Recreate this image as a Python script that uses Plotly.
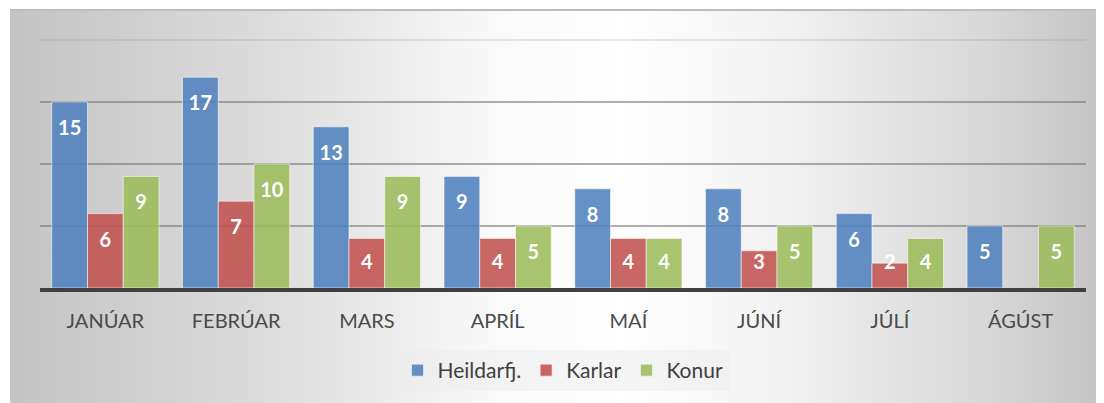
import base64
import plotly.graph_objects as go

months = ['JANÚAR', 'FEBRÚAR', 'MARS', 'APRÍL', 'MAÍ', 'JÚNÍ', 'JÚLÍ', 'ÁGÚST']
heildar = [15, 17, 13, 9, 8, 8, 6, 5]
karlar = [6, 7, 4, 4, 4, 3, 2, None]
konur = [9, 10, 9, 5, 4, 5, 4, 5]

series = [
    ('Heildarfj.', heildar, 'rgba(79,129,189,0.87)'),
    ('Karlar', karlar, 'rgba(192,80,77,0.87)'),
    ('Konur', konur, 'rgba(155,187,89,0.87)'),
]

# page body has an 8px margin, so the figure is shifted by that much
OFF = 8
W, H = 1104 - OFF, 403 - OFF
ML, MR, MT, MB = 40 - OFF, 18, 40 - OFF, 115
PW, PH = W - ML - MR, H - MT - MB
YMAX = 20
px_per_unit = PH / YMAX

# gray-white-gray backdrop like the office chart style
svg = '''<svg xmlns="http://www.w3.org/2000/svg" width="1094" height="394" viewBox="0 0 1094 394" preserveAspectRatio="none">
<defs><linearGradient id="g" x1="0" y1="0" x2="1" y2="0">
<stop offset="0" stop-color="#c4c4c4"/>
<stop offset="0.22" stop-color="#dadada"/>
<stop offset="0.45" stop-color="#fafafa"/>
<stop offset="0.56" stop-color="#ffffff"/>
<stop offset="0.72" stop-color="#f0f0f0"/>
<stop offset="0.9" stop-color="#d6d6d6"/>
<stop offset="1" stop-color="#c4c4c4"/>
</linearGradient></defs>
<rect x="0" y="0" width="1094" height="394" fill="url(#g)"/>
<rect x="0" y="0" width="1094" height="2" fill="#bcbcbc"/>
</svg>'''
bg_src = 'data:image/svg+xml;base64,' + base64.b64encode(svg.encode()).decode()

fig = go.Figure()

for i, (name, vals, color) in enumerate(series):
    fig.add_trace(go.Bar(
        x=months, y=vals, name=name,
        offsetgroup=str(i),
        marker=dict(color=color, line=dict(color='rgba(255,255,255,0.55)', width=1)),
        hoverinfo='x+y+name',
    ))

# labels sit ~28px under the bar top, but never lower than 24px above the base
for i, (name, vals, color) in enumerate(series):
    label_y = [None if v is None else max(v - 28 / px_per_unit, 24 / px_per_unit) for v in vals]
    fig.add_trace(go.Scatter(
        x=months, y=label_y, mode='text',
        text=['' if v is None else str(v) for v in vals],
        textposition='middle center',
        textfont=dict(family='Lato', size=20, color='white', weight='bold'),
        offsetgroup=str(i), showlegend=False, hoverinfo='skip',
        cliponaxis=False,
    ))

fig.update_layout(
    width=W, height=H,
    margin=dict(l=ML, r=MR, t=MT, b=MB),
    paper_bgcolor='white',
    plot_bgcolor='rgba(0,0,0,0)',
    barmode='group', bargap=0.18, bargroupgap=0,
    scattermode='group', scattergap=0.18,
    font=dict(family='Lato', color='#404040'),
    xaxis=dict(
        showline=True, linecolor='#404040', linewidth=4,
        ticks='', tickfont=dict(size=20, color='#4a4a4a'),
        ticklabelstandoff=12, showgrid=False,
    ),
    yaxis=dict(
        range=[0, YMAX], tickvals=[5, 10, 15], showticklabels=False,
        gridcolor='rgba(110,110,110,0.55)', gridwidth=1.5,
        zeroline=False,
    ),
    legend=dict(
        orientation='h', x=0.5, xanchor='center',
        y=-(350 - 40 - PH) / PH, yanchor='top',
        bgcolor='rgba(236,236,236,0.5)',
        font=dict(size=21, color='#404040'),
        itemwidth=30, traceorder='normal',
    ),
    images=[dict(
        source=bg_src, xref='paper', yref='paper',
        x=-(ML - 2) / PW, y=(MT + PH - 1) / PH,
        sizex=1094 / PW, sizey=394 / PH,
        xanchor='left', yanchor='top', sizing='stretch', layer='below',
    )],
    shapes=[dict(
        type='line', xref='paper', yref='paper', x0=0, x1=1, y0=1, y1=1,
        line=dict(color='rgba(140,140,140,0.2)', width=2),
    )],
    showlegend=True,
)

fig.write_html('out.html')
